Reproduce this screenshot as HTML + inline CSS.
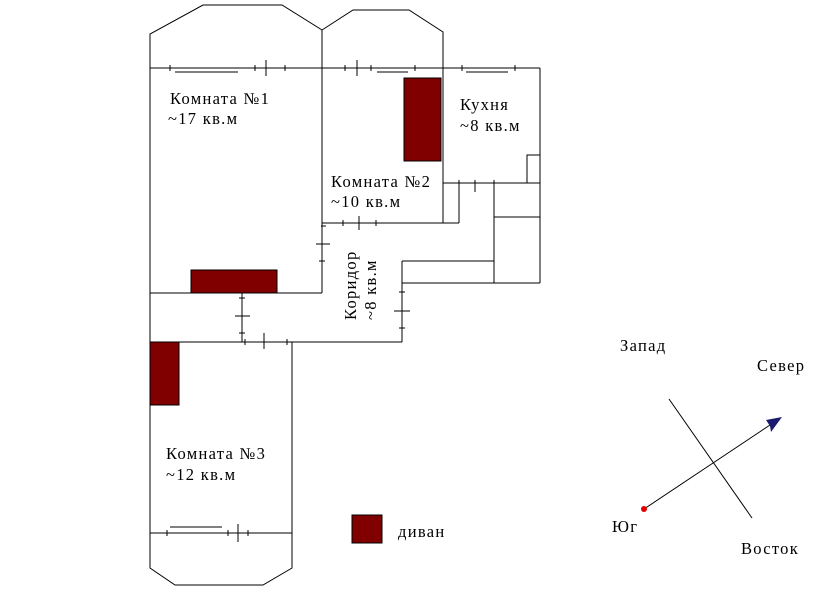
<!DOCTYPE html>
<html><head><meta charset="utf-8"><style>
body{margin:0;background:#fff;}
svg text{font-family:"Liberation Serif",serif;font-size:16.5px;letter-spacing:1.3px;fill:#000;}
</style></head><body>
<svg width="820" height="588" xmlns="http://www.w3.org/2000/svg">
<g stroke="#000" stroke-width="1" fill="none">
<polyline points="150,293 150,34 203,5 282,5 322,30 322,293"/>
<polyline points="322,30 353,10 409,10 443,32 443,223"/>
<line x1="150" y1="68" x2="540" y2="68"/>
<line x1="540" y1="68" x2="540" y2="283"/>
<line x1="322" y1="223" x2="459" y2="223"/>
<line x1="459" y1="183" x2="459" y2="223"/>
<line x1="443" y1="183" x2="540" y2="183"/>
<polyline points="527,183 527,155 540,155"/>
<line x1="494" y1="183" x2="494" y2="283"/>
<line x1="494" y1="217" x2="540" y2="217"/>
<line x1="402" y1="283" x2="540" y2="283"/>
<line x1="402" y1="261" x2="494" y2="261"/>
<line x1="402" y1="261" x2="402" y2="342"/>
<line x1="150" y1="293" x2="322" y2="293"/>
<line x1="242" y1="293" x2="242" y2="342"/>
<line x1="150" y1="342" x2="402" y2="342"/>
<polyline points="150,293 150,568 175,585 263,585 292,568 292,342"/>
<line x1="150" y1="533" x2="292" y2="533"/>
<line x1="175" y1="72" x2="238" y2="72"/>
<line x1="377" y1="72" x2="408" y2="72"/>
<line x1="466" y1="72" x2="508" y2="72"/>
<line x1="170" y1="65" x2="170" y2="71"/><line x1="255" y1="65" x2="255" y2="71"/><line x1="285" y1="65" x2="285" y2="71"/>
<line x1="266" y1="60" x2="266" y2="76"/>
<line x1="345" y1="65" x2="345" y2="71"/><line x1="371" y1="65" x2="371" y2="71"/><line x1="415" y1="65" x2="415" y2="71"/>
<line x1="357" y1="60" x2="357" y2="76"/>
<line x1="462" y1="65" x2="462" y2="71"/><line x1="515" y1="65" x2="515" y2="71"/>
<line x1="170" y1="527" x2="222" y2="527"/>
<line x1="167" y1="530" x2="167" y2="536"/><line x1="228" y1="530" x2="228" y2="536"/><line x1="248" y1="530" x2="248" y2="536"/>
<line x1="238" y1="524" x2="238" y2="542"/>
<line x1="459" y1="180" x2="459" y2="186"/><line x1="494" y1="180" x2="494" y2="186"/><line x1="475" y1="180" x2="475" y2="192"/>
<line x1="343" y1="220" x2="343" y2="226"/><line x1="359" y1="216" x2="359" y2="230"/><line x1="376" y1="220" x2="376" y2="226"/>
<line x1="321" y1="226" x2="326" y2="226"/><line x1="316" y1="244" x2="330" y2="244"/><line x1="319" y1="261" x2="325" y2="261"/>
<line x1="399" y1="292" x2="405" y2="292"/><line x1="394" y1="311" x2="410" y2="311"/><line x1="399" y1="328" x2="405" y2="328"/>
<line x1="239" y1="298" x2="245" y2="298"/><line x1="235" y1="316" x2="250" y2="316"/><line x1="239" y1="333" x2="245" y2="333"/>
<line x1="245" y1="339" x2="245" y2="345"/><line x1="264" y1="333" x2="264" y2="349"/><line x1="287" y1="339" x2="287" y2="345"/>
<line x1="669" y1="399" x2="752" y2="518"/>
<line x1="644" y1="509" x2="776" y2="421"/>
</g>
<polygon points="782,417 766,420 770,426 771,432" fill="#1a1a6e"/>
<circle cx="644" cy="509" r="3" fill="#e00000"/>
<g fill="#800000" stroke="#000" stroke-width="1">
<rect x="404" y="78" width="37" height="83"/>
<rect x="191" y="270" width="86" height="23"/>
<rect x="150" y="342" width="29" height="63"/>
<rect x="352" y="515" width="30" height="28"/>
</g>
<text x="170" y="104">Комната №1</text>
<text x="168" y="124">~17 кв.м</text>
<text x="460" y="110">Кухня</text>
<text x="460" y="131">~8 кв.м</text>
<text x="331" y="187">Комната №2</text>
<text x="331" y="207">~10 кв.м</text>
<text transform="translate(356,320) rotate(-90)">Коридор</text>
<text transform="translate(376,320) rotate(-90)">~8 кв.м</text>
<text x="166" y="459">Комната №3</text>
<text x="166" y="480">~12 кв.м</text>
<text x="398" y="537">диван</text>
<text x="620" y="351">Запад</text>
<text x="757" y="371">Север</text>
<text x="612" y="532">Юг</text>
<text x="741" y="554">Восток</text>
</svg>
</body></html>
